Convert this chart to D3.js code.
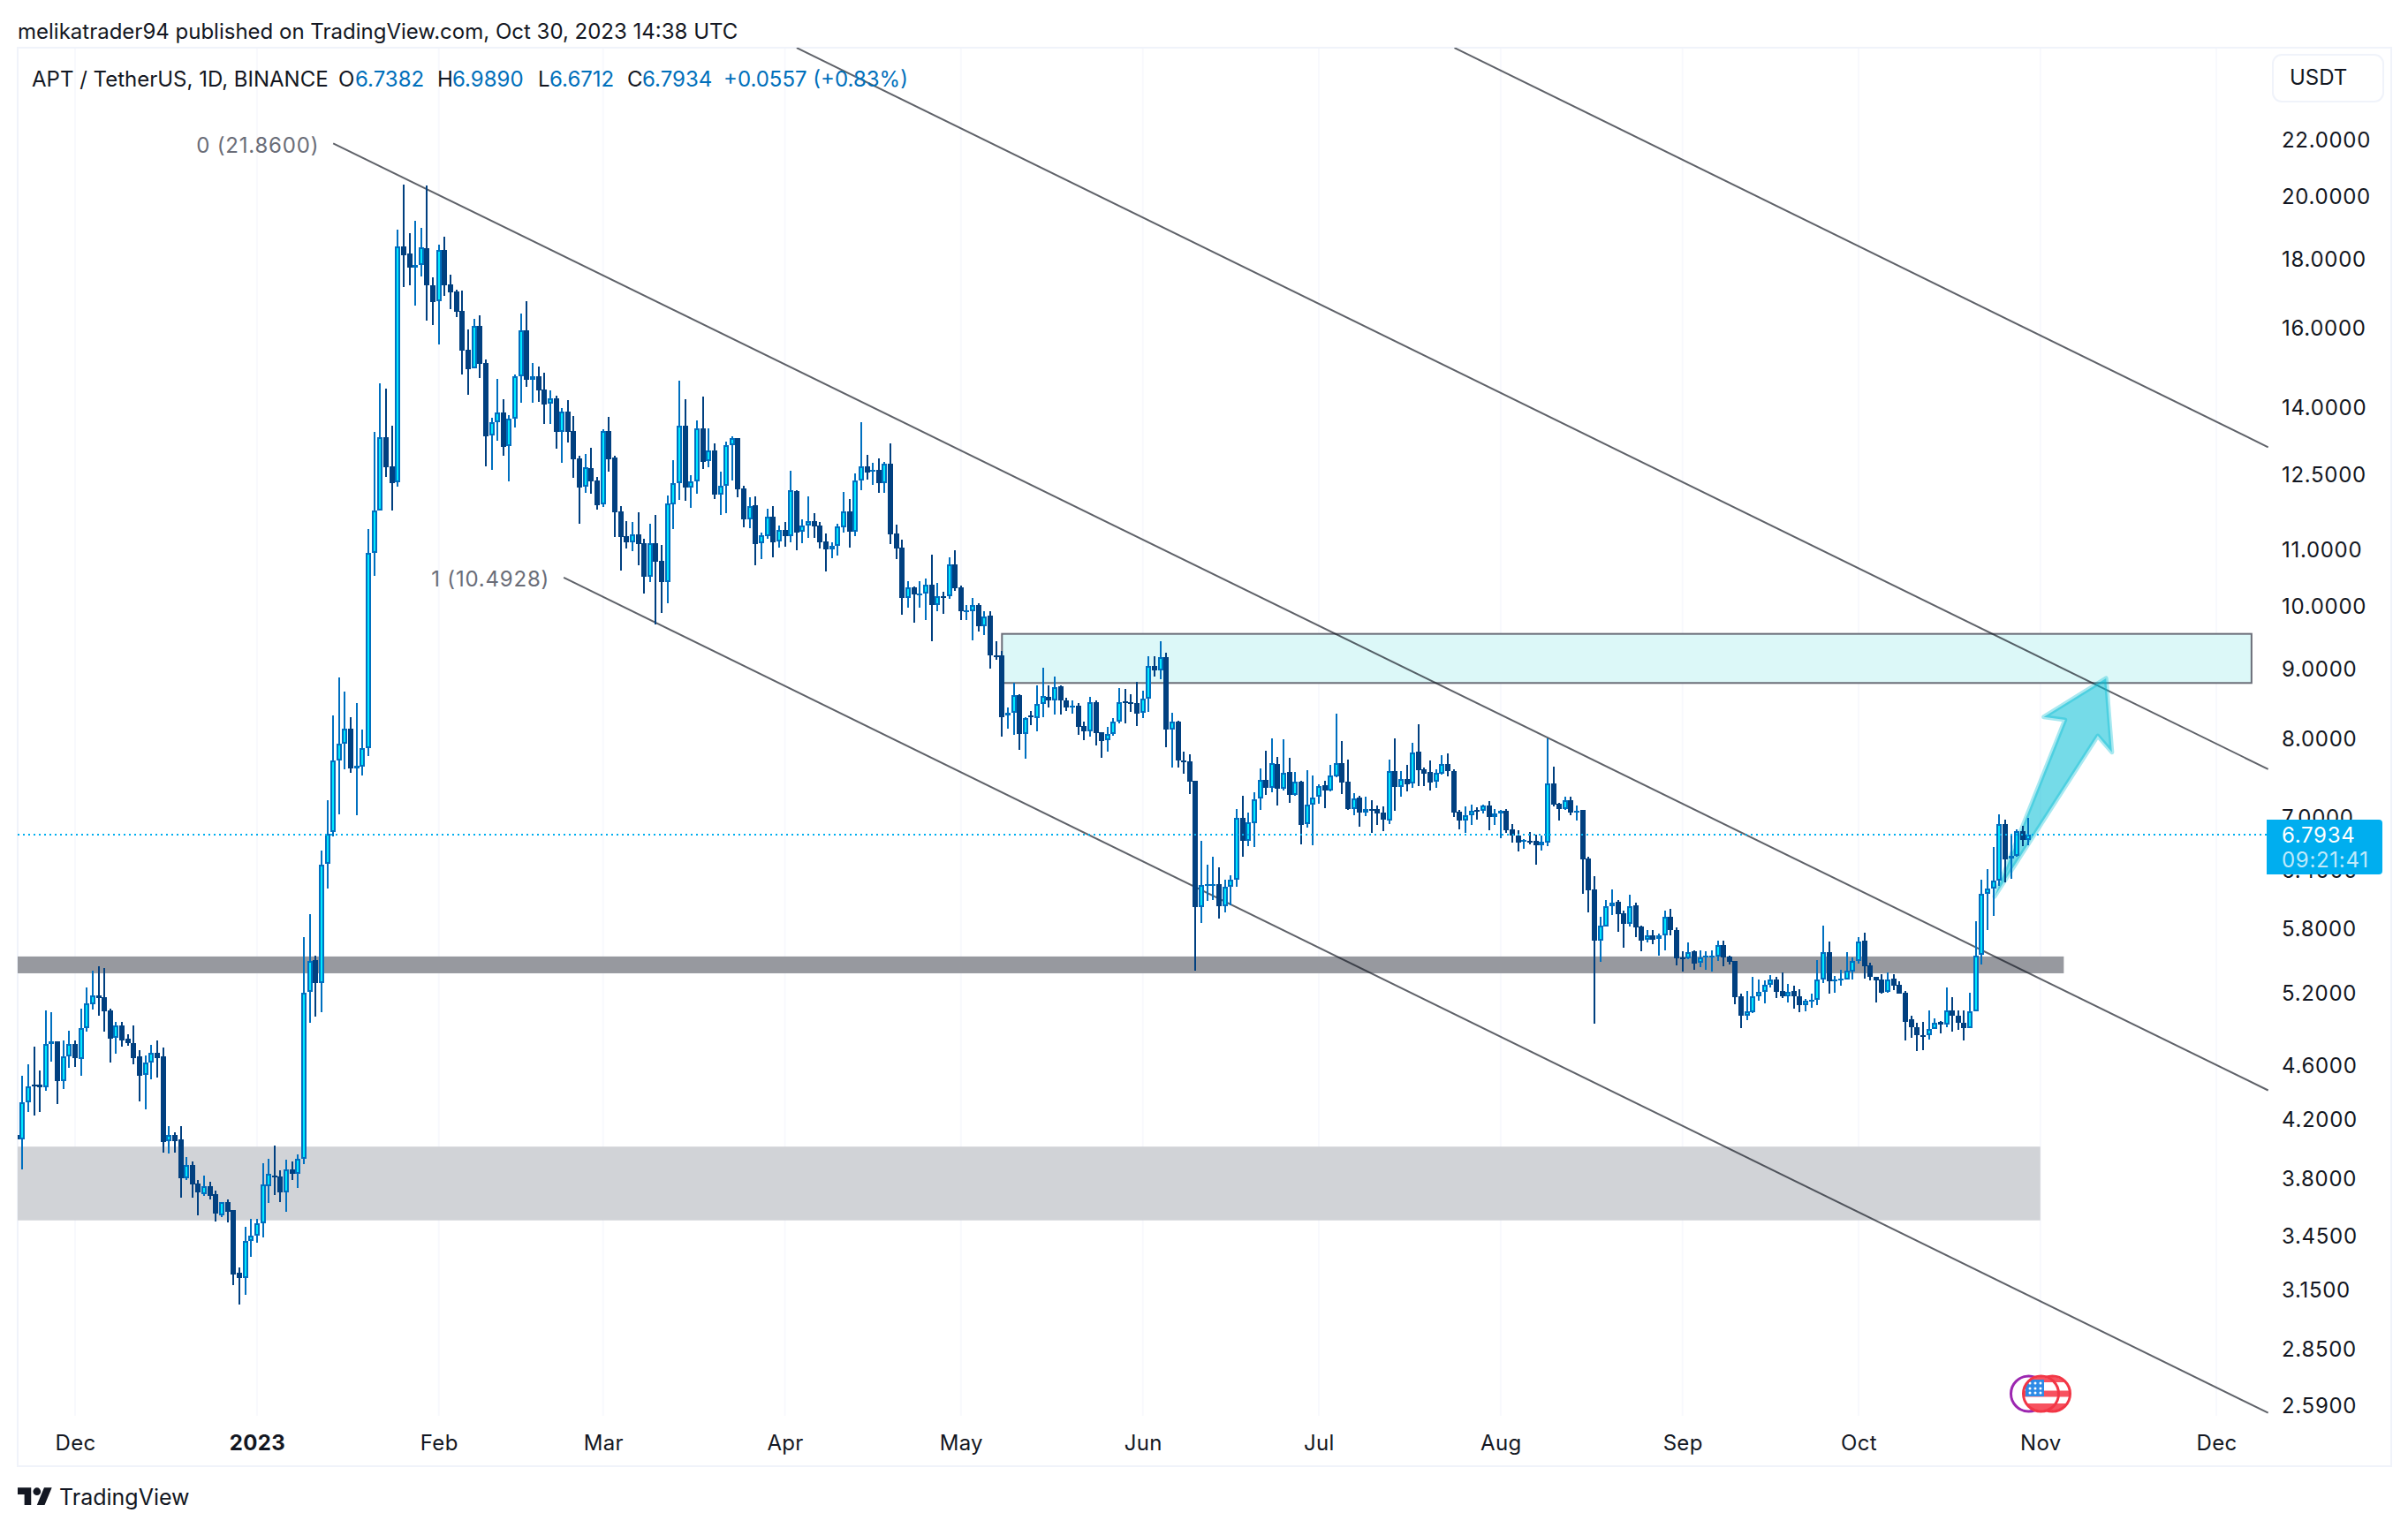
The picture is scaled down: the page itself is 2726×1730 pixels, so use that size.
<!DOCTYPE html>
<html lang="en">
  <head>
    <meta charset="utf-8">
    <title>APT / TetherUS, 1D, BINANCE</title>
    <script type="text/javascript" src="https://cdnjs.cloudflare.com/ajax/libs/d3/7.8.5/d3.min.js"></script>
    <style>
      body { margin: 0; background: #fff; }
      text { font-family: Inter, "Noto Sans", sans-serif; }
    </style>
  </head>
  <body>
    <script type="text/javascript">
    // daily candles, first one is 21 Nov 2022, last one 30 Oct 2023
    var highs = [4.10,4.52,4.61,4.75,4.56,5.05,5.03,4.79,4.80,4.88,
      4.80,5.06,5.25,5.40,5.44,5.42,5.06,4.95,4.95,4.85,
      4.92,4.72,4.68,4.76,4.80,4.74,4.15,4.11,4.15,3.94,
      3.91,3.79,3.82,3.78,3.72,3.65,3.67,3.60,3.27,3.50,
      3.55,3.55,3.90,3.93,4.02,3.85,3.92,3.91,3.96,5.71,
      5.94,5.54,6.61,7.20,8.31,8.86,8.65,8.29,8.49,8.11,
      11.39,13.42,14.57,14.44,13.57,18.90,20.39,18.79,19.18,18.96,
      20.36,17.43,18.42,18.68,17.51,17.07,17.05,15.97,16.25,16.35,
      15.17,13.75,14.68,14.19,13.81,14.79,16.40,16.74,15.08,14.99,
      14.84,14.40,14.27,13.98,14.17,13.79,12.90,12.93,13.07,12.44,
      13.48,13.77,12.90,11.84,11.55,11.52,11.72,11.21,11.50,11.67,
      11.09,12.05,12.80,14.64,14.19,12.48,13.69,14.25,13.51,13.17,
      12.55,13.21,13.33,13.28,12.26,12.02,12.04,11.32,11.79,11.84,
      11.46,11.53,12.57,12.16,11.57,12.04,11.70,11.52,11.30,11.14,
      11.50,12.13,11.99,12.51,13.65,12.92,12.74,12.84,12.76,13.17,
      11.48,11.19,10.43,10.34,10.43,10.48,10.90,10.40,10.25,10.86,
      10.99,10.35,10.01,10.14,10.04,9.91,9.92,9.42,9.27,8.42,
      8.78,8.61,8.29,8.37,8.74,9.01,8.75,8.88,8.75,8.56,
      8.52,8.49,8.22,8.57,8.52,8.08,8.15,8.27,8.70,8.69,
      8.62,8.80,8.66,9.19,9.19,9.42,9.24,8.35,8.24,7.82,
      7.78,7.44,6.72,6.46,6.55,6.43,6.30,6.34,7.09,7.26,
      7.05,7.30,7.60,7.83,7.99,7.75,7.98,7.74,7.55,7.44,
      7.58,7.51,7.40,7.44,7.64,8.34,7.96,7.71,7.29,7.26,
      7.25,7.20,7.14,7.13,7.71,7.99,7.56,7.64,7.94,8.19,
      7.61,7.70,7.59,7.77,7.80,7.59,7.08,7.13,7.15,7.12,
      7.15,7.19,7.09,7.08,7.09,6.92,6.85,6.74,6.82,6.79,
      6.78,8.00,7.62,7.17,7.24,7.25,7.14,7.08,6.55,6.33,
      5.91,6.08,6.19,6.08,5.98,6.14,6.06,5.83,5.78,5.78,
      5.75,5.98,5.99,5.81,5.58,5.66,5.59,5.59,5.58,5.59,
      5.68,5.68,5.54,5.49,5.19,5.22,5.34,5.32,5.31,5.36,
      5.34,5.38,5.28,5.26,5.23,5.15,5.19,5.50,5.83,5.67,
      5.35,5.41,5.57,5.52,5.71,5.76,5.47,5.34,5.37,5.38,
      5.37,5.30,5.22,5.00,4.94,4.95,5.05,4.98,4.96,5.25,
      5.16,5.05,5.05,5.20,5.87,6.30,6.41,6.65,7.03,6.97,
      6.78,6.86,6.90,6.989];

    var lows = [4.05,3.86,4.25,4.23,4.25,4.41,4.63,4.31,4.42,4.58,
      4.59,4.52,4.87,5.06,5.00,4.87,4.62,4.69,4.75,4.76,
      4.61,4.33,4.27,4.49,4.51,3.97,3.96,3.97,3.68,3.79,
      3.68,3.57,3.69,3.67,3.53,3.56,3.53,3.17,3.07,3.12,
      3.33,3.41,3.44,3.65,3.70,3.65,3.59,3.79,3.74,3.89,
      4.94,5.00,5.03,6.20,6.77,7.03,7.58,7.55,7.02,7.50,
      7.76,10.52,11.75,12.44,11.76,12.24,17.15,17.20,16.62,17.46,
      16.21,16.09,15.56,16.89,16.52,16.30,14.79,14.31,14.94,14.70,
      12.67,12.59,13.23,12.90,12.35,13.52,14.10,14.48,14.10,14.12,
      13.61,13.61,13.05,12.74,13.19,12.42,11.50,12.11,12.09,11.77,
      11.82,12.55,11.24,10.62,11.02,10.96,10.72,10.22,10.42,9.70,
      9.89,10.04,11.39,11.97,11.95,11.81,12.09,12.61,12.65,11.99,
      11.67,11.70,12.37,12.02,11.43,11.41,10.72,10.82,11.21,10.85,
      11.04,11.06,11.14,10.99,11.11,11.22,11.22,11.02,10.60,10.85,
      10.90,11.32,11.04,11.26,12.16,12.40,12.28,12.11,12.11,11.11,
      10.83,9.85,9.97,9.73,9.97,9.77,9.42,9.92,9.87,10.12,
      10.26,9.77,9.76,9.44,9.57,9.52,9.00,9.13,8.02,8.12,
      8.04,7.84,7.73,8.17,8.09,8.29,8.43,8.33,8.33,8.37,
      8.33,8.05,7.97,8.01,7.90,7.74,7.82,8.03,8.19,8.20,
      8.37,8.17,8.27,8.37,8.88,8.83,7.88,7.61,7.61,7.53,
      7.27,5.40,5.85,6.08,6.09,5.90,5.96,6.03,6.22,6.55,
      6.66,6.65,7.09,7.27,7.29,7.14,7.32,7.17,7.25,6.68,
      6.88,6.67,7.16,7.10,7.30,7.49,7.28,7.08,7.02,6.89,
      7.02,6.81,6.91,6.84,6.91,7.07,7.24,7.30,7.36,7.38,
      7.38,7.32,7.36,7.52,7.50,7.00,6.85,6.82,6.91,6.97,
      7.04,6.84,6.90,6.75,6.81,6.71,6.61,6.63,6.68,6.45,
      6.61,6.67,7.12,6.96,7.08,7.03,6.96,6.14,5.96,4.93,
      5.48,5.82,5.93,5.76,5.62,5.82,5.72,5.58,5.66,5.64,
      5.54,5.59,5.73,5.45,5.39,5.50,5.41,5.43,5.41,5.39,
      5.49,5.44,5.46,5.10,4.90,4.97,5.02,5.13,5.11,5.25,
      5.15,5.15,5.12,5.06,5.03,5.04,5.07,5.10,5.29,5.19,
      5.20,5.27,5.32,5.32,5.46,5.33,5.31,5.11,5.20,5.20,
      5.23,5.19,4.80,4.82,4.71,4.72,4.81,4.89,4.86,4.91,
      4.87,4.89,4.80,4.90,5.04,5.46,5.78,5.92,6.23,6.27,
      6.30,6.55,6.67,6.6712];

    var opens = [4.09,4.06,4.32,4.45,4.45,4.43,4.77,4.79,4.48,4.67,
      4.77,4.65,4.90,5.10,5.18,5.16,5.05,4.82,4.92,4.81,
      4.78,4.67,4.53,4.62,4.70,4.67,4.05,4.09,4.06,3.80,
      3.89,3.77,3.70,3.75,3.70,3.57,3.65,3.60,3.24,3.21,
      3.42,3.45,3.52,3.75,3.82,3.81,3.71,3.86,3.83,3.93,
      5.21,5.50,5.29,6.47,6.82,7.70,7.92,8.13,7.60,7.62,
      7.86,10.94,11.75,13.30,12.67,12.33,18.36,18.15,17.72,17.79,
      18.31,17.20,16.74,18.26,17.22,17.02,16.47,15.43,14.94,16.06,
      15.08,13.34,13.64,13.87,13.10,13.72,14.74,15.94,14.66,14.75,
      14.42,14.07,14.21,13.43,13.89,13.44,12.84,12.23,12.63,12.37,
      11.87,13.44,12.86,11.74,11.26,11.14,11.29,11.12,10.50,11.12,
      10.80,10.42,11.87,12.31,13.57,12.22,12.34,13.51,12.77,13.01,
      12.08,12.25,13.12,13.28,12.20,11.58,11.85,11.12,11.26,11.63,
      11.15,11.37,11.26,12.14,11.33,11.46,11.54,11.46,11.16,11.01,
      11.07,11.43,11.73,11.34,12.36,12.67,12.55,12.59,12.30,12.72,
      11.30,11.04,10.13,10.32,10.20,10.22,10.37,10.01,10.17,10.16,
      10.73,10.32,9.92,9.92,10.02,9.67,9.84,9.20,9.20,8.31,
      8.35,8.60,8.06,8.31,8.28,8.47,8.58,8.53,8.73,8.53,
      8.43,8.45,8.17,8.09,8.50,8.08,7.97,8.06,8.22,8.51,
      8.50,8.49,8.35,8.55,9.03,8.97,9.17,8.11,8.23,7.70,
      7.69,7.44,6.01,6.24,6.24,6.25,6.02,6.22,6.30,6.99,
      6.72,6.93,7.22,7.45,7.35,7.66,7.34,7.55,7.27,7.43,
      6.92,7.15,7.24,7.39,7.32,7.50,7.67,7.43,7.10,7.23,
      7.05,7.10,7.10,7.05,6.96,7.57,7.36,7.47,7.41,7.82,
      7.59,7.55,7.43,7.53,7.66,7.57,7.06,6.96,7.02,7.08,
      7.07,7.14,7.00,7.04,7.07,6.86,6.78,6.72,6.72,6.72,
      6.67,6.70,7.41,7.16,7.09,7.20,7.05,7.08,6.53,6.19,
      5.68,5.82,6.02,6.07,5.95,5.84,6.03,5.82,5.69,5.73,
      5.70,5.73,5.91,5.78,5.52,5.51,5.58,5.47,5.52,5.53,
      5.53,5.64,5.53,5.49,5.17,5.00,5.03,5.17,5.21,5.27,
      5.32,5.22,5.17,5.22,5.17,5.09,5.13,5.14,5.32,5.57,
      5.30,5.31,5.32,5.39,5.49,5.68,5.45,5.34,5.32,5.21,
      5.33,5.27,5.20,4.97,4.91,4.84,4.84,4.89,4.95,4.93,
      5.05,5.00,4.94,4.90,5.04,5.55,6.15,6.20,6.29,6.92,
      6.53,6.56,6.84,6.7382];

    var closes = [4.06,4.32,4.44,4.44,4.43,4.77,4.79,4.48,4.67,4.77,
      4.66,4.90,5.11,5.18,5.155,5.04,4.81,4.92,4.80,4.78,
      4.66,4.52,4.62,4.70,4.66,4.04,4.09,4.05,3.80,3.89,
      3.76,3.71,3.75,3.69,3.58,3.65,3.59,3.23,3.21,3.42,
      3.45,3.52,3.76,3.83,3.81,3.71,3.86,3.83,3.93,5.20,
      5.49,5.29,6.46,6.80,7.70,7.92,8.13,7.60,7.63,7.87,
      10.94,11.75,13.30,12.65,12.31,18.36,18.10,17.72,17.79,18.33,
      17.20,16.72,18.25,17.20,17.00,16.45,15.40,14.92,16.06,15.06,
      13.33,13.64,13.87,13.09,13.72,14.74,15.94,14.66,14.74,14.40,
      14.06,14.20,13.42,13.89,13.42,12.82,12.22,12.64,12.35,11.86,
      13.44,12.82,11.72,11.24,11.14,11.29,11.11,10.50,11.12,10.78,
      10.42,11.90,12.31,13.56,12.22,12.34,13.50,12.76,13.00,12.07,
      12.25,13.12,13.28,12.18,11.57,11.84,11.11,11.27,11.63,11.14,
      11.37,11.26,12.16,11.32,11.46,11.54,11.44,11.14,11.01,11.07,
      11.44,11.73,11.34,12.36,12.67,12.53,12.59,12.30,12.72,11.29,
      11.02,10.13,10.32,10.20,10.22,10.37,10.01,10.17,10.15,10.73,
      10.31,9.92,9.93,10.01,9.67,9.83,9.20,9.19,8.29,8.35,
      8.60,8.05,8.28,8.29,8.47,8.59,8.53,8.72,8.52,8.43,
      8.45,8.15,8.09,8.50,8.07,7.96,8.06,8.22,8.50,8.49,
      8.49,8.34,8.55,9.03,8.97,9.17,8.11,8.22,7.70,7.68,
      7.43,6.01,6.24,6.25,6.25,6.02,6.22,6.30,6.99,6.72,
      6.94,7.21,7.45,7.35,7.67,7.34,7.54,7.27,7.43,6.91,
      7.15,7.23,7.38,7.32,7.51,7.67,7.42,7.10,7.22,7.05,
      7.09,7.09,7.04,6.97,7.57,7.36,7.46,7.40,7.81,7.58,
      7.53,7.42,7.54,7.66,7.56,7.05,6.96,7.02,7.07,7.07,
      7.14,7.00,7.04,7.07,6.85,6.78,6.70,6.73,6.71,6.67,
      6.71,7.41,7.15,7.09,7.20,7.05,7.07,6.52,6.18,5.68,
      5.83,6.02,6.06,5.94,5.84,6.02,5.81,5.68,5.73,5.69,
      5.73,5.91,5.78,5.51,5.51,5.57,5.46,5.52,5.54,5.54,
      5.64,5.52,5.48,5.16,5.00,5.04,5.17,5.21,5.27,5.32,
      5.21,5.17,5.21,5.17,5.09,5.13,5.14,5.32,5.57,5.30,
      5.32,5.33,5.40,5.49,5.67,5.44,5.34,5.31,5.20,5.32,
      5.26,5.19,4.95,4.91,4.84,4.83,4.89,4.94,4.93,5.05,
      5.00,4.94,4.90,5.04,5.54,6.15,6.20,6.29,6.92,6.52,
      6.56,6.84,6.73,6.7934];

    var priceTicks = [22, 20, 18, 16, 14, 12.5, 11, 10, 9, 8, 7, 6.4, 5.8, 5.2, 4.6, 4.2, 3.8, 3.45, 3.15, 2.85, 2.59];
    var monthTicks = ["2022-12-01", "2023-01-01", "2023-02-01", "2023-03-01", "2023-04-01", "2023-05-01", "2023-06-01",
                      "2023-07-01", "2023-08-01", "2023-09-01", "2023-10-01", "2023-11-01", "2023-12-01"];
    var monthLabels = ["Dec", "2023", "Feb", "Mar", "Apr", "May", "Jun", "Jul", "Aug", "Sep", "Oct", "Nov", "Dec"];

    // drawings: [date, price] pairs
    var channelLines = [
      [["2023-01-14", 21.86], ["2023-12-09T20:00Z", 4.41]],
      [["2023-02-22T07:00Z", 10.4928], ["2023-12-09T20:00Z", 2.557]],
      [["2023-04-03", 25.69], ["2023-12-09T20:00Z", 7.59]],
      [["2023-07-24T03:00Z", 25.69], ["2023-12-09T20:00Z", 13.08]]
    ];
    var lastPrice = 6.7934;
    var targetZone = {from: "2023-05-08", to: "2023-12-07", top: 9.54, bottom: 8.78};
    var darkZone = {from: "2022-11-01", to: "2023-11-05", top: 5.53, bottom: 5.375};
    var lightZone = {from: "2022-11-01", to: "2023-11-01", top: 4.01, bottom: 3.54};
    var arrowPoints = [["2023-10-24T05:00Z", 6.12], ["2023-11-05T05:00Z", 8.25], ["2023-11-01T14:00Z", 8.29],
                       ["2023-11-12T05:00Z", 8.85], ["2023-11-13T05:00Z", 7.81], ["2023-11-10T19:00Z", 8.03]];

    var w = 2726;
    var h = 1730;
    var frame = {left: 20, top: 54, right: 2707, bottom: 1660};
    var plotBottom = 1603;

    var svg = d3.select("body")
                .append("svg")
                .attr("width", w)
                .attr("height", h)
                .style("display", "block");

    var date = function(s) {
      return new Date(s.length == 10 ? s + "T00:00Z" : s);
    };

    var xScale = d3.scaleUtc()
                   .domain([date("2022-12-01"), date("2023-12-01")])
                   .range([85, 2509]);
    var yScale = d3.scaleLog()
                   .domain([22, 2.59])
                   .range([158, 1591]);

    var firstDay = date("2022-11-21");
    var candles = opens.map(function(o, i) {
      return {date: d3.utcDay.offset(firstDay, i), open: o, high: highs[i], low: lows[i], close: closes[i]};
    });

    svg.append("clipPath").attr("id", "plot")
       .append("rect")
       .attr("x", frame.left).attr("y", frame.top)
       .attr("width", frame.right - frame.left).attr("height", plotBottom - frame.top);

    // month grid
    svg.append("g").selectAll("line")
       .data(monthTicks)
       .enter()
       .append("line")
       .attr("x1", function(d) { return xScale(date(d)); })
       .attr("x2", function(d) { return xScale(date(d)); })
       .attr("y1", frame.top)
       .attr("y2", plotBottom)
       .attr("stroke", "#f8f9fd")
       .attr("stroke-width", 2);

    svg.append("rect")
       .attr("x", frame.left).attr("y", frame.top)
       .attr("width", frame.right - frame.left).attr("height", frame.bottom - frame.top)
       .attr("fill", "none")
       .attr("stroke", "#f0f3fa")
       .attr("stroke-width", 2);

    var plot = svg.append("g").attr("clip-path", "url(#plot)");

    var zone = function(z, fill) {
      return plot.append("rect")
                 .attr("x", xScale(date(z.from)))
                 .attr("y", yScale(z.top))
                 .attr("width", xScale(date(z.to)) - xScale(date(z.from)))
                 .attr("height", yScale(z.bottom) - yScale(z.top))
                 .attr("fill", fill);
    };
    zone(lightZone, "#d1d3d7");
    zone(darkZone, "#97999f");
    zone(targetZone, "#dcf8f8")
      .attr("stroke", "#6a6d78")
      .attr("stroke-width", 2);

    plot.append("g").selectAll("line")
        .data(channelLines)
        .enter()
        .append("line")
        .attr("x1", function(d) { return xScale(date(d[0][0])); })
        .attr("y1", function(d) { return yScale(d[0][1]); })
        .attr("x2", function(d) { return xScale(date(d[1][0])); })
        .attr("y2", function(d) { return yScale(d[1][1]); })
        .attr("stroke", "#131722")
        .attr("stroke-opacity", 0.68)
        .attr("stroke-width", 2);

    plot.append("polygon")
        .attr("points", arrowPoints.map(function(d) {
          return xScale(date(d[0])) + "," + yScale(d[1]);
        }).join(" "))
        .attr("fill", "rgba(0,188,212,0.54)")
        .attr("stroke", "rgba(0,188,212,0.34)")
        .attr("stroke-width", 5)
        .attr("stroke-linejoin", "round");

    // candles: wick, body, and a cyan core on the rising ones
    var cx = function(d) { return Math.round(xScale(d.date)); };
    var bodyTop = function(d) { return Math.round(yScale(Math.max(d.open, d.close))); };
    var bodyHeight = function(d) {
      return Math.max(2, Math.round(yScale(Math.min(d.open, d.close))) - bodyTop(d));
    };
    var rising = function(d) { return d.close >= d.open; };
    var blue = "#0070c0";
    var navy = "#014080";

    var candle = plot.append("g").selectAll("g")
                     .data(candles)
                     .enter()
                     .append("g");
    candle.append("rect")
          .attr("x", function(d) { return cx(d) - 1; })
          .attr("y", function(d) { return Math.round(yScale(d.high)); })
          .attr("width", 2)
          .attr("height", function(d) { return Math.max(1, Math.round(yScale(d.low) - yScale(d.high))); })
          .attr("fill", function(d) { return rising(d) ? blue : navy; });
    candle.append("rect")
          .attr("x", function(d) { return cx(d) - 3; })
          .attr("y", bodyTop)
          .attr("width", 6)
          .attr("height", bodyHeight)
          .attr("fill", function(d) { return rising(d) ? blue : navy; });
    candle.filter(function(d) { return rising(d) && bodyHeight(d) > 4; })
          .append("rect")
          .attr("x", function(d) { return cx(d) - 1; })
          .attr("y", function(d) { return bodyTop(d) + 2; })
          .attr("width", 2)
          .attr("height", function(d) { return bodyHeight(d) - 4; })
          .attr("fill", "#00eaff");

    // last price line and tag
    plot.append("line")
        .attr("x1", frame.left)
        .attr("x2", 2566)
        .attr("y1", yScale(lastPrice))
        .attr("y2", yScale(lastPrice))
        .attr("stroke", "#00aeef")
        .attr("stroke-width", 2)
        .attr("stroke-dasharray", "2 4");

    var yAxis = d3.axisRight(yScale)
                  .tickValues(priceTicks)
                  .tickFormat(d3.format(".4f"))
                  .tickSize(0)
                  .tickPadding(0);
    var yAxisG = svg.append("g")
                    .attr("transform", "translate(2583,1)")
                    .call(yAxis);
    yAxisG.select(".domain").remove();
    yAxisG.selectAll("text")
          .attr("font-family", "Inter")
          .attr("font-size", 24)
          .attr("letter-spacing", 0.7)
          .attr("fill", "#131722");

    var xAxis = d3.axisBottom(xScale)
                  .tickValues(monthTicks.map(date))
                  .tickFormat(function(d, i) { return monthLabels[i]; })
                  .tickSize(0)
                  .tickPadding(0);
    var xAxisG = svg.append("g")
                    .attr("transform", "translate(0,1625)")
                    .call(xAxis);
    xAxisG.select(".domain").remove();
    xAxisG.selectAll("text")
          .attr("font-family", "Inter")
          .attr("font-size", 24)
          .attr("letter-spacing", 0.3)
          .attr("font-weight", function(d, i) { return monthLabels[i] == "2023" ? 700 : 400; })
          .attr("fill", "#131722");

    svg.append("path")
       .attr("d", "M2566,928H2693a4,4 0 0 1 4,4V986a4,4 0 0 1 -4,4H2566Z")
       .attr("fill", "#00aeef");
    svg.append("text")
       .attr("x", 2583).attr("y", 946).attr("dy", "0.35em")
       .attr("font-size", 24).attr("letter-spacing", 0.7)
       .attr("fill", "#fff")
       .text(lastPrice.toFixed(4));
    svg.append("text")
       .attr("x", 2583).attr("y", 974).attr("dy", "0.35em")
       .attr("font-size", 24).attr("letter-spacing", 0.7)
       .attr("fill", "#fff").attr("fill-opacity", 0.75)
       .text("09:21:41");

    // USDT box
    svg.append("rect")
       .attr("x", 2573).attr("y", 62).attr("width", 125).attr("height", 53).attr("rx", 10)
       .attr("fill", "#fff").attr("stroke", "#f0f3fa").attr("stroke-width", 2);
    svg.append("text")
       .attr("x", 2592).attr("y", 88).attr("dy", "0.35em")
       .attr("font-size", 24).attr("fill", "#131722")
       .text("USDT");

    // header and legend
    svg.append("text")
       .attr("x", 20).attr("y", 36).attr("dy", "0.35em")
       .attr("font-size", 24).attr("fill", "#131722")
       .text("melikatrader94 published on TradingView.com, Oct 30, 2023 14:38 UTC");

    var legendDark = "#131722";
    var legendBlue = "#006fbb";
    var legend = [
      {x: 36, t: "APT / TetherUS, 1D, BINANCE", c: legendDark},
      {x: 383, t: "O", c: legendDark}, {x: 402, t: "6.7382", c: legendBlue},
      {x: 495, t: "H", c: legendDark}, {x: 512, t: "6.9890", c: legendBlue},
      {x: 609, t: "L", c: legendDark}, {x: 622, t: "6.6712", c: legendBlue},
      {x: 710, t: "C", c: legendDark}, {x: 727, t: "6.7934", c: legendBlue},
      {x: 819, t: "+0.0557 (+0.83%)", c: legendBlue}
    ];
    svg.append("g").selectAll("text")
       .data(legend)
       .enter()
       .append("text")
       .attr("x", function(d) { return d.x; })
       .attr("y", 90)
       .attr("dy", "0.35em")
       .attr("font-size", 24)
       .attr("fill", function(d) { return d.c; })
       .text(function(d) { return d.t; });

    // labels at the start of the fib channel
    svg.append("g").selectAll("text")
       .data([channelLines[0][0], channelLines[1][0]])
       .enter()
       .append("text")
       .attr("x", function(d) { return xScale(date(d[0])) - 16; })
       .attr("y", function(d) { return yScale(d[1]) + 2; })
       .attr("dy", "0.35em")
       .attr("text-anchor", "end")
       .attr("font-size", 24)
       .attr("letter-spacing", 0.8)
       .attr("fill", "#6a6d78")
       .text(function(d, i) { return i + " (" + d[1].toFixed(4) + ")"; });

    // economic event markers under the last candles
    svg.append("clipPath").attr("id", "flag1").append("circle").attr("cx", 2310.5).attr("cy", 1578).attr("r", 19);
    svg.append("clipPath").attr("id", "flag2").append("circle").attr("cx", 2323.5).attr("cy", 1578).attr("r", 19);
    var stripes = function(clip, x0) {
      var s = svg.append("g").attr("clip-path", "url(#" + clip + ")");
      s.append("rect").attr("x", x0 - 20).attr("y", 1558).attr("width", 40).attr("height", 40).attr("fill", "#fff");
      [1558, 1574.5, 1589].forEach(function(y, i) {
        s.append("rect").attr("x", x0 - 20).attr("y", y).attr("width", 40).attr("height", i == 2 ? 10 : 7).attr("fill", "#f7525f");
      });
      return s;
    };
    svg.append("circle").attr("cx", 2296.5).attr("cy", 1578).attr("r", 20)
       .attr("fill", "#fff").attr("stroke", "#9c27b0").attr("stroke-width", 3);
    stripes("flag2", 2323.5);
    svg.append("circle").attr("cx", 2323.5).attr("cy", 1578).attr("r", 20)
       .attr("fill", "none").attr("stroke", "#f23645").attr("stroke-width", 3);
    svg.append("circle").attr("cx", 2310.5).attr("cy", 1578).attr("r", 20).attr("fill", "#fff");
    var front = stripes("flag1", 2310.5);
    front.append("rect").attr("x", 2293).attr("y", 1562).attr("width", 21).attr("height", 19).attr("fill", "#2e8ae6");
    [1566, 1572, 1577].forEach(function(y) {
      [2298, 2304, 2310].forEach(function(x) {
        front.append("circle").attr("cx", x).attr("cy", y).attr("r", 1.5).attr("fill", "#fff");
      });
    });
    svg.append("circle").attr("cx", 2310.5).attr("cy", 1578).attr("r", 20)
       .attr("fill", "none").attr("stroke", "#f23645").attr("stroke-width", 3);

    // TradingView logo
    svg.append("g")
       .attr("transform", "translate(20,1680) scale(1.09)")
       .attr("fill", "#131722")
       .call(function(g) {
         g.append("path").attr("d", "M14 22H7V11H0V4h14v18zM28 22h-8l7.5-18h8L28 22z");
         g.append("circle").attr("cx", 20).attr("cy", 8).attr("r", 4);
       });
    svg.append("text")
       .attr("x", 67).attr("y", 1695).attr("dy", "0.35em")
       .attr("font-size", 25).attr("font-weight", 400).attr("fill", "#131722")
       .text("TradingView");
    </script>
  </body>
</html>
